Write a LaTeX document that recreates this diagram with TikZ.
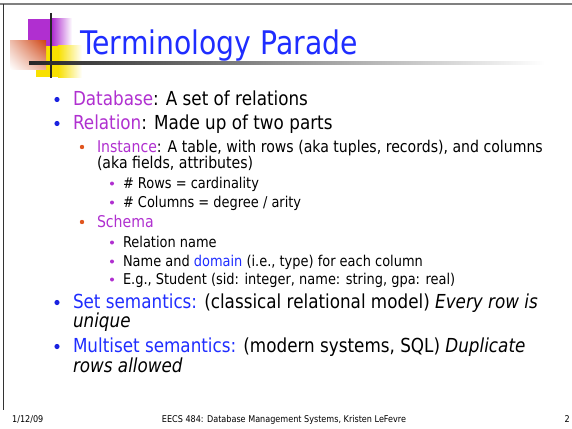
\documentclass[tikz,border=0pt]{standalone}
\usepackage{fontspec}
\setmainfont{DejaVu Sans}[FakeStretch=0.87]
\usetikzlibrary{shapes.geometric,shadings}
\definecolor{ttlblue}{HTML}{1F2DFF}
\definecolor{purp}{HTML}{B030D0}
\definecolor{orng}{HTML}{E0561F}
\definecolor{bblue}{HTML}{1A22E0}
\definecolor{lpurp}{HTML}{B02FD0}
\definecolor{lyel}{HTML}{F8E000}
\definecolor{lred}{HTML}{D04818}
\tikzset{
  x=1pt,y=-1pt,
  txt/.style={anchor=base west,inner sep=0pt,outer sep=0pt},
  lone/.style={txt,font=\fontsize{19.3}{23}\selectfont},
  ltwo/.style={txt,font=\fontsize{16.2}{19}\selectfont},
  lthree/.style={txt,font=\fontsize{14.9}{18}\selectfont},
  foot/.style={anchor=base,inner sep=0pt,font=\fontsize{9.3}{11}\selectfont},
  bone/.style={circle,fill=bblue,inner sep=0pt,minimum size=5.2pt},
  btwo/.style={circle,fill=orng,inner sep=0pt,minimum size=4.4pt},
  bthree/.style={circle,fill=lpurp,inner sep=0pt,minimum size=4pt},
}
\begin{document}
\begin{tikzpicture}
\useasboundingbox (0,0) rectangle (572,428);
\fill[white] (0,0) rectangle (572,428);
% frame
\draw[line width=2pt,color=black!50] (0,4.5) -- (572,4.5);
\draw[line width=1.3pt,color=black!80] (3.5,4) -- (3.5,410);
% logo
\fill[lpurp] (28,19) rectangle (52,46);
\shade[left color=lpurp,right color=white] (52,19) rectangle (72,46);
\fill[lyel] (36,46) rectangle (58,77);
\shade[left color=lyel,right color=white] (58,46) rectangle (82,77);
\shade[upper right=lred,lower left=white,upper left=lred!35!white,lower right=lred!45!white] (10,41) rectangle (46,69);
\draw[line width=2pt,color=black!85] (51,13) -- (51,78);
\shade[left color=black!85,right color=white] (29,61.5) rectangle (545,64.5);
% title
\node[txt,font=\fontsize{32.5}{38}\selectfont,text=ttlblue] (title) at (80,55) {Terminology Parade};
% level 1
\node[bone] (b1) at (57,99.5) {};
\node[lone] (db) at (73,105) {\textcolor{purp}{Database}: A set of relations};
\node[bone] (b2) at (57,123.5) {};
\node[lone] (rel) at (73,129) {\textcolor{purp}{Relation}: Made up of two parts};
\node[btwo] (b3) at (82,147) {};
\node[ltwo] (inst) at (97,152) {\textcolor{purp}{Instance}: A table, with rows (aka tuples, records), and columns};
\node[ltwo] (inst2) at (97,168) {(aka fields, attributes)};
\node[bthree] (b4) at (112,183.5) {};
\node[lthree] (rows) at (123,188) {\# Rows = cardinality};
\node[bthree] (b5) at (112,202.5) {};
\node[lthree] (cols) at (123,207) {\# Columns = degree / arity};
\node[btwo] (b6) at (82,222) {};
\node[ltwo] (sch) at (97,227) {\textcolor{purp}{Schema}};
\node[bthree] (b7) at (112,242.5) {};
\node[lthree] (rn) at (123,247) {Relation name};
\node[bthree] (b8) at (112,261.5) {};
\node[lthree] (nd) at (123,266) {Name and \textcolor{ttlblue}{domain} (i.e., type) for each column};
\node[bthree] (b9) at (112,279.5) {};
\node[lthree] (eg) at (123,284) {E.g., Student (sid: integer, name: string, gpa: real)};
\node[bone] (b10) at (57,302.5) {};
\node[lone] (set) at (73,308) {\textcolor{ttlblue}{Set semantics:} (classical relational model) \textit{Every row is}};
\node[lone] (set2) at (73,327) {\textit{unique}};
\node[bone] (b11) at (57,346.5) {};
\node[lone] (mset) at (73,352) {\textcolor{ttlblue}{Multiset semantics:} (modern systems, SQL) \textit{Duplicate}};
\node[lone] (mset2) at (73,372) {\textit{rows allowed}};
% footer
\node[foot,anchor=base west] (date) at (12,422) {1/12/09};
\node[foot] (course) at (284,422) {EECS 484: Database Management Systems, Kristen LeFevre};
\node[foot,anchor=base east] (page) at (570,422) {2};
\end{tikzpicture}
\end{document}
